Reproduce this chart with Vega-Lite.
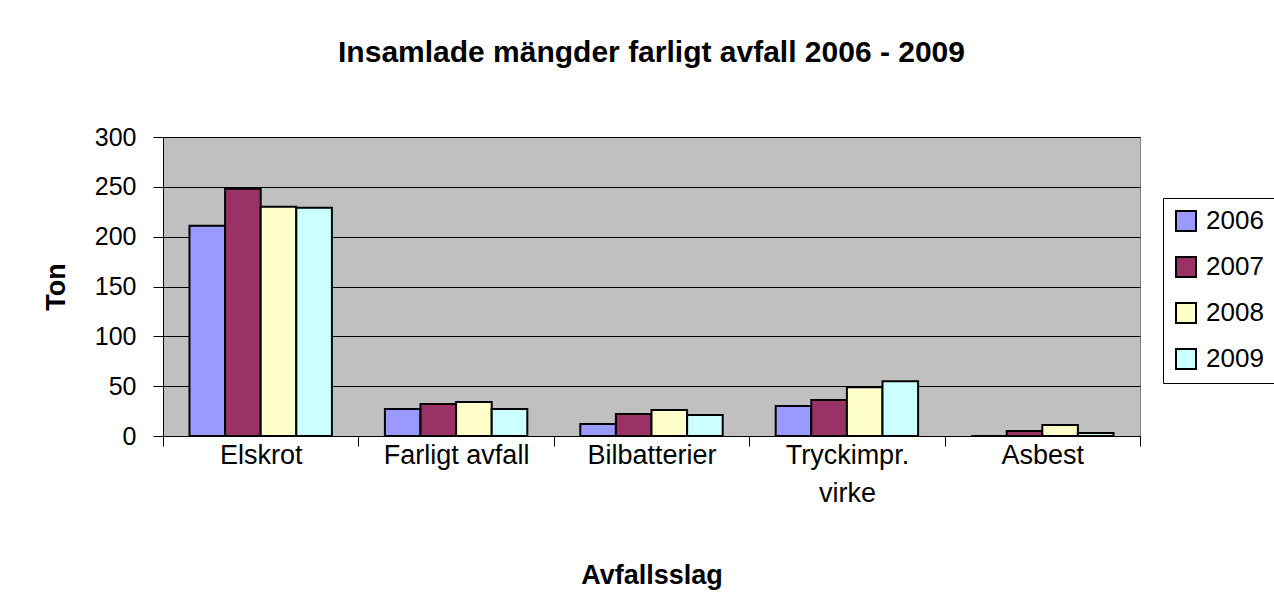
{
  "$schema": "https://vega.github.io/schema/vega-lite/v6.json",
  "width": 977,
  "height": 299,
  "autosize": {"type": "none"},
  "padding": {"left": 163, "top": 137, "right": 134, "bottom": 176},
  "background": "white",
  "title": {
    "text": "Insamlade mängder farligt avfall 2006 - 2009",
    "font": "Liberation Sans",
    "fontSize": 30,
    "fontWeight": "bold",
    "color": "black",
    "anchor": "middle",
    "frame": "group",
    "baseline": "alphabetic",
    "offset": 33
  },
  "config": {
    "view": {"fill": "#C0C0C0", "stroke": "#808080", "strokeWidth": 1},
    "font": "Liberation Sans"
  },
  "data": {
    "values": [
      {"kategori": "Elskrot", "ar": "2006", "ton": 211},
      {"kategori": "Elskrot", "ar": "2007", "ton": 248},
      {"kategori": "Elskrot", "ar": "2008", "ton": 230},
      {"kategori": "Elskrot", "ar": "2009", "ton": 229},
      {"kategori": "Farligt avfall", "ar": "2006", "ton": 27},
      {"kategori": "Farligt avfall", "ar": "2007", "ton": 32},
      {"kategori": "Farligt avfall", "ar": "2008", "ton": 34},
      {"kategori": "Farligt avfall", "ar": "2009", "ton": 27},
      {"kategori": "Bilbatterier", "ar": "2006", "ton": 12},
      {"kategori": "Bilbatterier", "ar": "2007", "ton": 22},
      {"kategori": "Bilbatterier", "ar": "2008", "ton": 26},
      {"kategori": "Bilbatterier", "ar": "2009", "ton": 21},
      {"kategori": "Tryckimpr. virke", "ar": "2006", "ton": 30},
      {"kategori": "Tryckimpr. virke", "ar": "2007", "ton": 36},
      {"kategori": "Tryckimpr. virke", "ar": "2008", "ton": 49},
      {"kategori": "Tryckimpr. virke", "ar": "2009", "ton": 55},
      {"kategori": "Asbest", "ar": "2006", "ton": 0},
      {"kategori": "Asbest", "ar": "2007", "ton": 5},
      {"kategori": "Asbest", "ar": "2008", "ton": 11},
      {"kategori": "Asbest", "ar": "2009", "ton": 3}
    ]
  },
  "mark": {"type": "bar", "stroke": "black", "strokeWidth": 2},
  "encoding": {
    "x": {
      "field": "kategori",
      "type": "nominal",
      "sort": null,
      "scale": {"paddingInner": 0, "paddingOuter": 0},
      "axis": {
        "title": "Avfallsslag",
        "titleFont": "Liberation Sans",
        "titleFontSize": 27,
        "titleFontWeight": "bold",
        "titleColor": "black",
        "titleBaseline": "alphabetic",
        "titleY": 147,
        "labelAngle": 0,
        "labelFont": "Liberation Sans",
        "labelFontSize": 27,
        "labelColor": "black",
        "labelPadding": -4,
        "labelLineHeight": 38,
        "labelExpr": "datum.value == 'Tryckimpr. virke' ? ['Tryckimpr.', 'virke'] : datum.value",
        "tickBand": "extent",
        "tickSize": 10,
        "tickColor": "black",
        "domainColor": "black",
        "grid": false
      }
    },
    "xOffset": {
      "field": "ar",
      "type": "nominal",
      "scale": {"paddingInner": 0, "paddingOuter": 0.744}
    },
    "y": {
      "field": "ton",
      "type": "quantitative",
      "scale": {"domain": [0, 300], "nice": false},
      "axis": {
        "title": "Ton",
        "titleFont": "Liberation Sans",
        "titleFontSize": 27,
        "titleFontWeight": "bold",
        "titleColor": "black",
        "titleBaseline": "alphabetic",
        "titleX": -99,
        "titleY": 149.5,
        "values": [0, 50, 100, 150, 200, 250, 300],
        "labelFont": "Liberation Sans",
        "labelFontSize": 25,
        "labelColor": "black",
        "labelPadding": 17,
        "tickSize": 10,
        "tickColor": "black",
        "domainColor": "black",
        "grid": true,
        "gridColor": "black",
        "gridOpacity": 1,
        "gridWidth": 1
      }
    },
    "color": {
      "field": "ar",
      "type": "nominal",
      "scale": {
        "domain": ["2006", "2007", "2008", "2009"],
        "range": ["#9999FF", "#993366", "#FFFFCC", "#CCFFFF"]
      },
      "legend": {
        "title": null,
        "orient": "none",
        "legendX": 1000,
        "legendY": 61,
        "fillColor": "white",
        "strokeColor": "black",
        "padding": 10,
        "symbolType": "square",
        "symbolSize": 400,
        "symbolStrokeColor": "black",
        "symbolStrokeWidth": 2,
        "symbolOpacity": 1,
        "labelFont": "Liberation Sans",
        "labelFontSize": 26,
        "labelColor": "black",
        "labelOffset": 7,
        "rowPadding": 18
      }
    }
  }
}
